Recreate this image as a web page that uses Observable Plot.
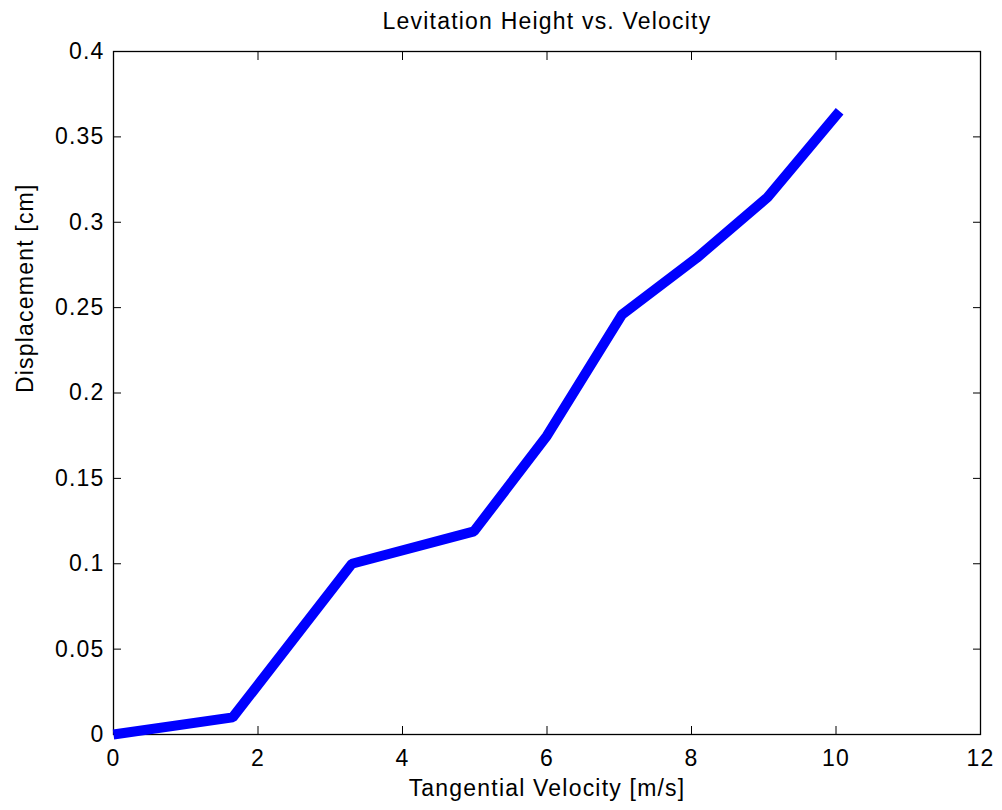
<!DOCTYPE html>
<html>
<head>
<meta charset="utf-8">
<script src="https://cdn.jsdelivr.net/npm/d3@7"></script>
<script src="https://cdn.jsdelivr.net/npm/@observablehq/plot@0.6"></script>
<style>
  html, body { margin: 0; padding: 0; background: #fff; }
  svg text { letter-spacing: 1.2px; }
</style>
</head>
<body>
<div id="chart"></div>
<script>
const velocity = [0, 1.65, 3.3, 4.99, 6.0, 7.04, 8.07, 9.05, 10.05];
const displacement = [0, 0.01, 0.1, 0.119, 0.175, 0.246, 0.279, 0.3145, 0.365];
const xTicks = [0, 2, 4, 6, 8, 10, 12];
const xTickLabels = ["0", "2", "4", "6", "8", "10", "12"];
const yTicks = [0, 0.05, 0.1, 0.15, 0.2, 0.25, 0.3, 0.35, 0.4];
const yTickLabels = ["0", "0.05", "0.1", "0.15", "0.2", "0.25", "0.3", "0.35", "0.4"];
const title = "Levitation Height vs. Velocity";
const xLabel = "Tangential Velocity [m/s]";
const yLabel = "Displacement [cm]";

const data = velocity.map((v, i) => ({v, d: displacement[i]}));
const fmtX = d => xTickLabels[xTicks.indexOf(d)];
const fmtY = d => yTickLabels[yTicks.indexOf(d)];

const chart = Plot.plot({
  width: 1002,
  height: 810,
  marginLeft: 113,
  marginRight: 22,
  marginTop: 51,
  marginBottom: 76,
  style: {fontFamily: "'Liberation Sans', Arial, Helvetica, sans-serif", fontSize: "23px", color: "#000", background: "#fff"},
  x: {domain: [0, 12]},
  y: {domain: [0, 0.4]},
  marks: [
    Plot.frame({stroke: "#000", strokeWidth: 1.3}),
    Plot.axisX(xTicks, {anchor: "bottom", tickSize: -8, tickPadding: 23, tickFormat: fmtX, label: null, stroke: "#000", fill: "#000", fontSize: 23}),
    Plot.axisX(xTicks, {anchor: "top", tickSize: -8, tickFormat: () => "", label: null, stroke: "#000"}),
    Plot.axisY(yTicks, {anchor: "left", tickSize: -8, tickPadding: 17, tickFormat: fmtY, label: null, stroke: "#000", fill: "#000", fontSize: 23}),
    Plot.axisY(yTicks, {anchor: "right", tickSize: -8, tickFormat: () => "", label: null, stroke: "#000"}),
    Plot.line(data, {x: "v", y: "d", stroke: "#0000ff", strokeWidth: 10, strokeLinecap: "butt", strokeLinejoin: "miter", clip: false}),
    Plot.text([title], {frameAnchor: "top", dy: -23, lineAnchor: "bottom", text: d => d, fill: "#000", fontSize: 23}),
    Plot.text([xLabel], {frameAnchor: "bottom", dy: 61, lineAnchor: "bottom", text: d => d, fill: "#000", fontSize: 23}),
    Plot.text([yLabel], {frameAnchor: "left", dx: -81, rotate: -90, lineAnchor: "bottom", text: d => d, fill: "#000", fontSize: 23})
  ]
});
document.getElementById("chart").appendChild(chart);
</script>
</body>
</html>
